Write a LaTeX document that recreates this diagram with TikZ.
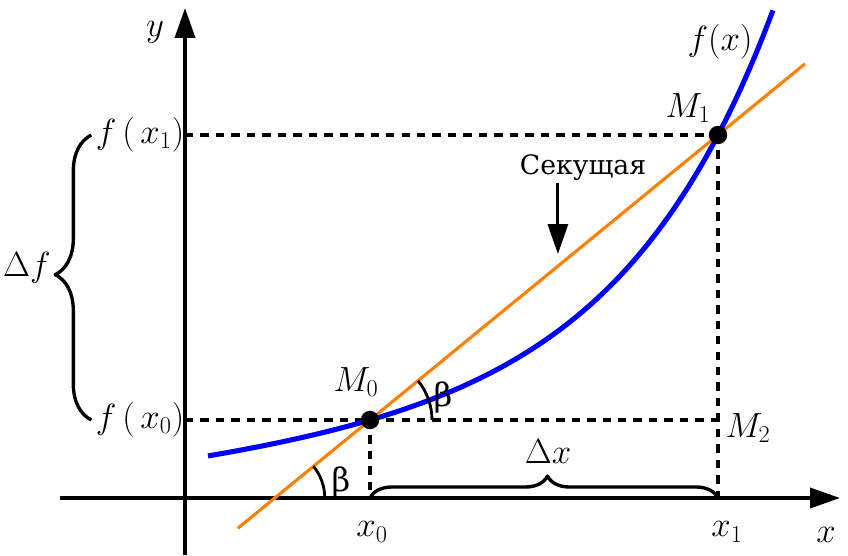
\documentclass[tikz,border=0pt]{standalone}
\usepackage{fontspec}
\setmainfont{DejaVu Serif}
\usetikzlibrary{arrows.meta,calc,angles,decorations.pathreplacing}
\definecolor{curveblue}{HTML}{0000FF}
\definecolor{secorange}{HTML}{FF8000}
\tikzset{
  every picture/.style={line join=round, >={Triangle[length=0.75cm,width=0.5cm]}},
  axisline/.style={line width=2.6pt, ->},
  guide/.style={line width=2.6pt, dash pattern=on 6pt off 5pt},
  fcurve/.style={line width=3.6pt, curveblue},
  secant/.style={line width=2.2pt, secorange},
  pointer/.style={line width=2.2pt, ->},
  dot/.style={circle, fill, inner sep=0pt, minimum size=0.46cm},
  lbl/.style={font=\fontsize{23}{27}\selectfont, inner sep=1pt},
  bracket/.style={line width=2.4pt, decorate, decoration={brace, amplitude=#1, aspect=0.51}},
  angarc/.style={draw, line width=2pt, angle radius=#1},
}

\begin{document}
\begin{tikzpicture}
\useasboundingbox (-4.625,-1.425) rectangle (16.575,12.45);
\coordinate (O) at (0,0);
\coordinate (xl) at (-3.125,0);
\coordinate (xr) at (16.375,0);
\coordinate (yb) at (0,-1.425);
\coordinate (yt) at (0,12.25);
\coordinate (p0) at (4.625,1.95);
\coordinate (p1) at (13.325,9.075);
\coordinate (M2) at (p1 |- p0);
\coordinate (P) at (intersection of p0--p1 and xl--xr);
\coordinate (hit) at ($(p0)!0.54!(p1)$);
\draw[axisline] (xl) -- (xr);
\draw[axisline] (yb) -- (yt);
\draw[guide] (p0 -| O) -- (M2);
\draw[guide] (p1 -| O) -- (p1);
\draw[guide] (p0) -- (p0 |- O);
\draw[guide] (p1) -- (p1 |- O);
\draw[fcurve] plot[domain=0.575:14.7, samples=120] (\x,{1.95+0.106*(\x-4.625)+0.721*(exp(0.26*(\x-4.625))-1)});
\draw[secant] ($(p0)!-0.38!(p1)$) -- ($(p0)!1.25!(p1)$);
\pic[angarc=1.25cm] {angle = xr--P--p1};
\pic[angarc=1.55cm] {angle = M2--p0--p1};
\node[dot] (M0) at (p0) {};
\node[dot] (M1) at (p1) {};
\node[lbl] (ylab) at (-0.75,11.65) {$y$};
\node[lbl] (xlab) at (16.025,-0.925) {$x$};
\node[lbl] (flab) at (13.375,11.4) {$f(x)$};
\node[lbl] (M0lab) at (4.275,2.9) {$M_0$};
\node[lbl] (M1lab) at (12.575,9.75) {$M_1$};
\node[lbl] (M2lab) at (14.075,1.75) {$M_2$};
\node[lbl] (x0lab) at (4.675,-0.85) {$x_0$};
\node[lbl] (x1lab) at (13.55,-0.85) {$x_1$};
\node[lbl] (dxlab) at (9.075,1.15) {$\Delta x$};
\node[lbl] (fx1) at (-1.125,9.075) {$f\,(\,x_1)$};
\node[lbl] (fx0) at (-1.125,1.95) {$f\,(\,x_0)$};
\node[lbl] (dflab) at (-3.95,5.75) {$\Delta f$};
\node[lbl] (b1lab) at (3.9,0.4) {β};
\node[lbl] (b2lab) at (6.45,2.525) {β};
\node[lbl, font=\fontsize{19}{23}\selectfont] (seclab) at (9.95,8.25) {Секущая};
\draw[pointer] (seclab.south -| hit) -- ([yshift=0.3cm]hit);
\draw[bracket=0.55cm] (p0 |- O) -- (p1 |- O);
\draw[bracket=0.9cm] ([xshift=-2pt]fx0.west) -- ([xshift=-2pt]fx1.west);
\end{tikzpicture}
\end{document}
